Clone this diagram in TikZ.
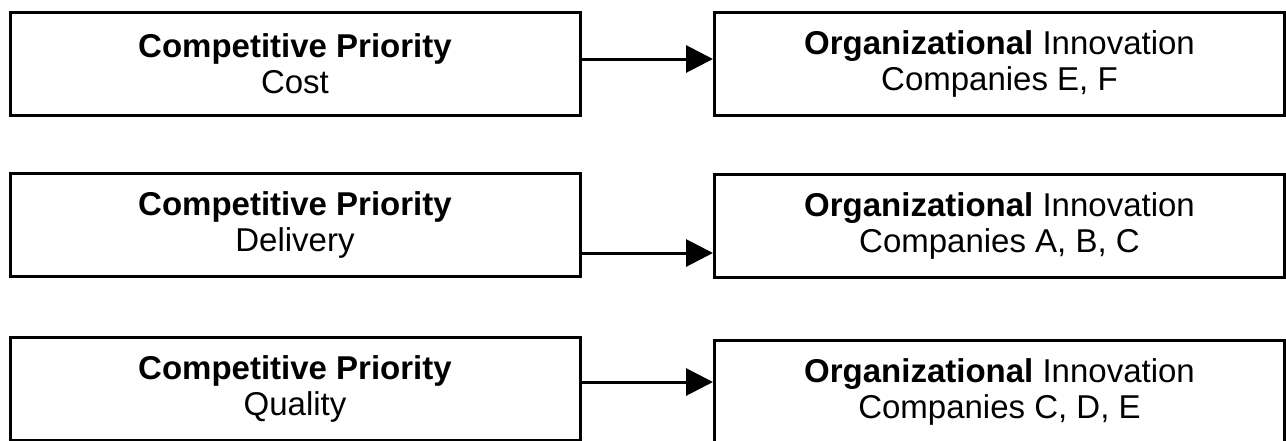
\documentclass[tikz,border=0pt]{standalone}
\usepackage{fontspec}
\setmainfont{Liberation Sans}
\usetikzlibrary{arrows.meta}
\tikzset{
  box/.style={draw=black, line width=3pt, minimum width=570pt, minimum height=103pt,
    inner sep=0pt, align=center, font=\fontsize{33pt}{36pt}\selectfont},
  arr/.style={draw=black, line width=3pt, -{Triangle[length=27pt,width=27pt]}}
}
\begin{document}
\begin{tikzpicture}[x=1pt,y=-1pt]
\useasboundingbox (0,0) rectangle (1286,440);
\clip (0,0) rectangle (1286,440);
\node[box] (l1) at (295,63.5) {\textbf{Competitive Priority}\\Cost};
\node[box] (r1) at (999.5,64) {\textbf{Organizational} Innovation\\Companies E, F};
\node[box] (l2) at (295,225) {\textbf{Competitive Priority}\\Delivery};
\node[box] (r2) at (999.5,226) {\textbf{Organizational} Innovation\\Companies A, B, C};
\node[box] (l3) at (295,388.5) {\textbf{Competitive Priority}\\Quality};
\node[box] (r3) at (999.5,391.5) {\textbf{Organizational} Innovation\\Companies C, D, E};
\draw[arr] ([yshift=4.5pt]l1.east) coordinate (a1) -- (a1 -| r1.west);
\draw[arr] ([yshift=-28pt]l2.east) coordinate (a2) -- (a2 -| r2.west);
\draw[arr] ([yshift=6.5pt]l3.east) coordinate (a3) -- (a3 -| r3.west);
\end{tikzpicture}
\end{document}
